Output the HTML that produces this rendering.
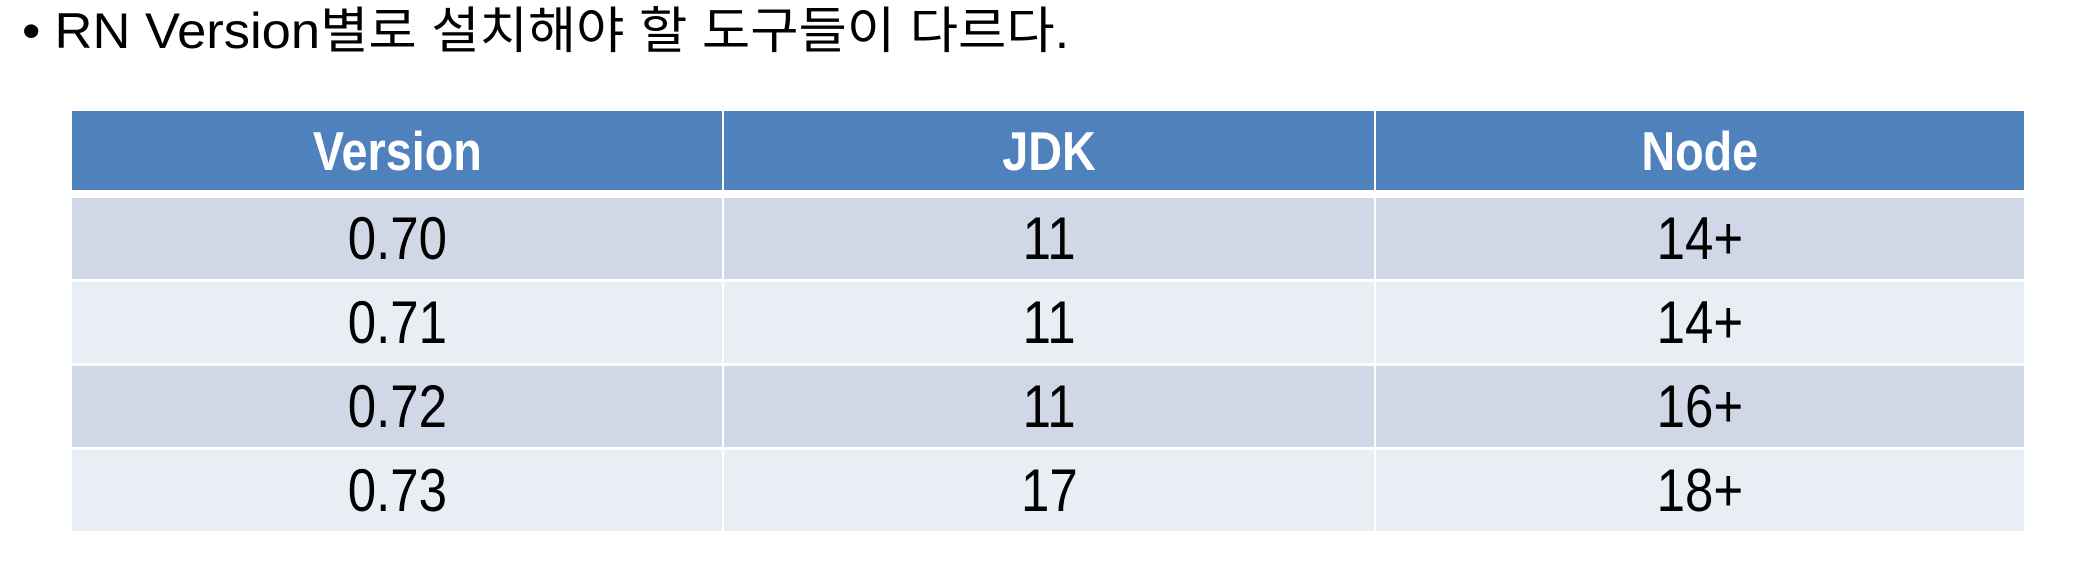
<!DOCTYPE html>
<html><head><meta charset="utf-8"><style>
html,body{margin:0;padding:0;background:#fff;width:2078px;height:562px;overflow:hidden}
body{position:relative;font-family:"Liberation Sans","Noto Sans CJK KR",sans-serif}
#title{position:absolute;left:22px;top:1px;font-size:50px;line-height:60px;color:#000;white-space:nowrap;transform:scaleX(1.05);transform-origin:0 50%}
#title .b{display:inline-block;width:31px}
.cell{position:absolute;display:flex;align-items:center;justify-content:center;font-size:60px;color:#000}
.cell span{display:inline-block;transform:scaleX(0.85)}
.hd{background:#4F81BD;color:#fff;font-weight:bold;font-size:55px}
.odd{background:#D0D8E8}.even{background:#E9EDF4}
</style></head><body>
<div id="title"><span class="b">•</span>RN Version별로 설치해야 할 도구들이 다르다.</div>
<div id="tbl"></div>
<script>
const headers=["Version","JDK","Node"];
const versions=["0.70","0.71","0.72","0.73"];
const jdk=["11","11","11","17"];
const node=["14+","14+","16+","18+"];
const tbl=document.getElementById('tbl');
const colX=[72,724,1376,2026];
const rowY=[111,197,281,365,449,533];
function cell(x0,x1,y0,y1,txt,cls,name){
  const d=document.createElement('div');
  d.className='cell '+cls;
  d.style.left=x0+'px';d.style.width=(x1-x0)+'px';
  d.style.top=y0+'px';d.style.height=(y1-y0)+'px';
  const s=document.createElement('span');
  s.textContent=txt;
  d.appendChild(s);
  
  
  tbl.appendChild(d);
}
headers.forEach((h,c)=>cell(colX[c],colX[c+1]-2,rowY[0],rowY[0]+79,h,'hd','header-'+h.toLowerCase()));
const cols=[versions,jdk,node];
versions.forEach((v,r)=>{
  cols.forEach((arr,c)=>{
    cell(colX[c],colX[c+1]-2,rowY[r+1]+1,rowY[r+2]-2,arr[r],r%2?'even':'odd','cell-'+headers[c].toLowerCase()+'-'+v);
  });
});
</script>
</body></html>
